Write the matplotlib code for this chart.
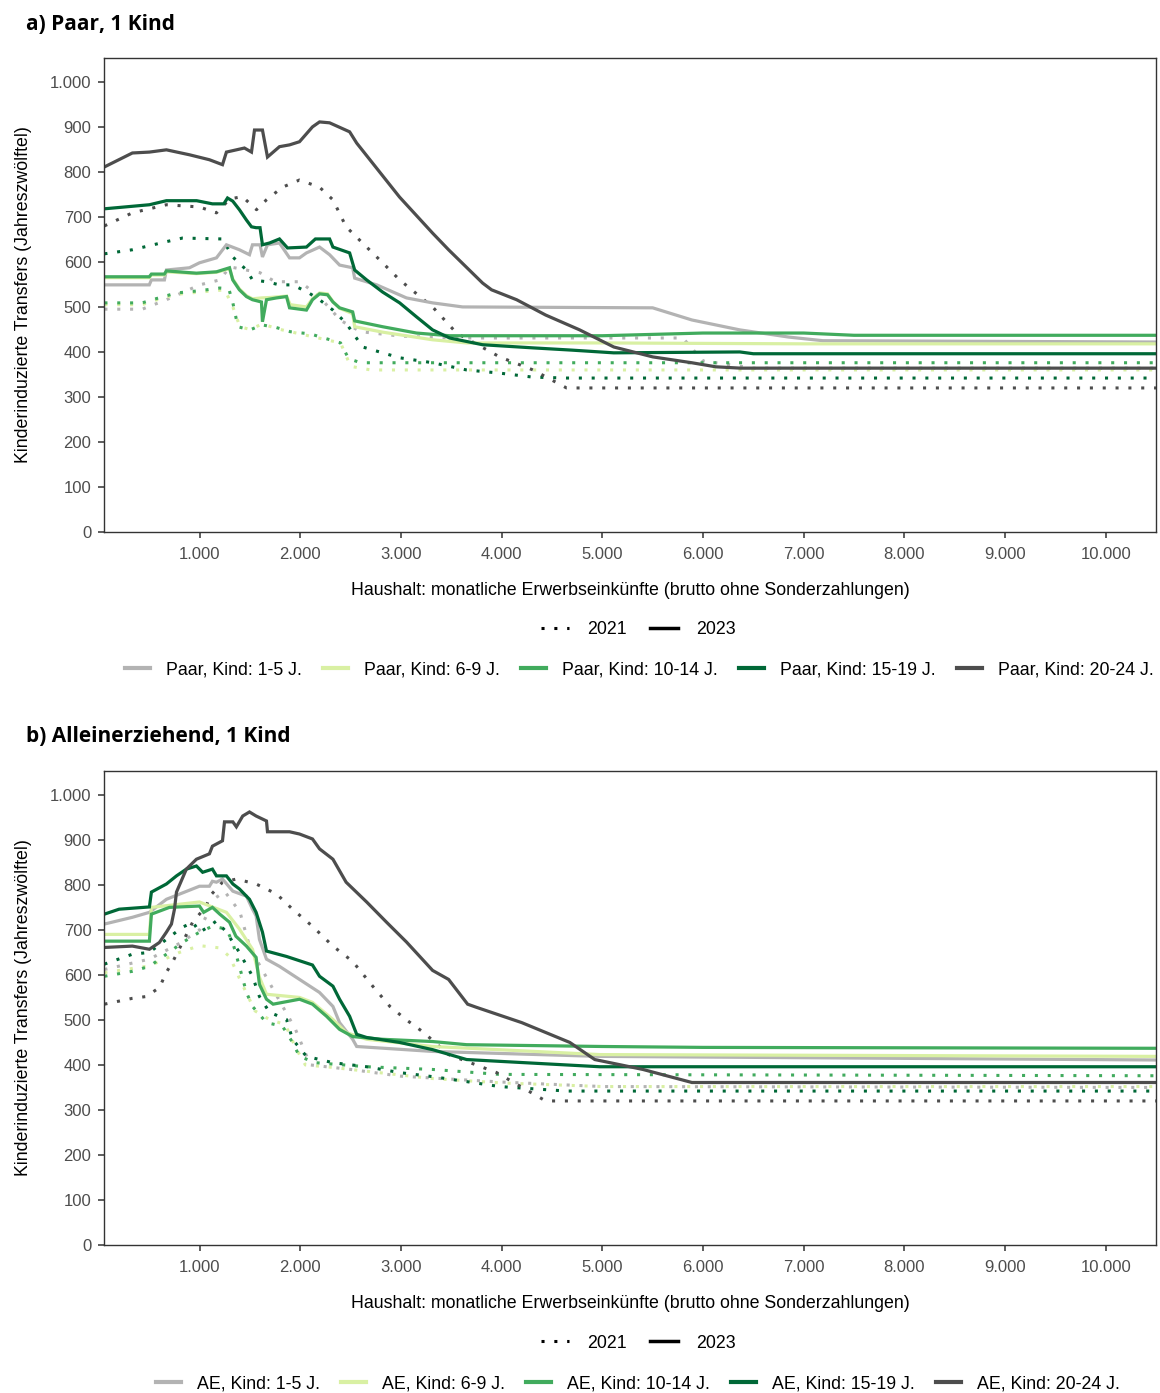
import matplotlib
matplotlib.use("Agg")
import matplotlib.pyplot as plt
from matplotlib.lines import Line2D
from matplotlib.ticker import FuncFormatter

plt.rcParams["font.family"] = ["Liberation Sans", "DejaVu Sans"]

# === Farben / Altersgruppen ===
alter = ["1-5 J.", "6-9 J.", "10-14 J.", "15-19 J.", "20-24 J."]
farben = ["#b3b3b3", "#d9f0a3", "#41ab5d", "#006837", "#4d4d4d"]

# === a) Paar, 1 Kind -- 2023 ===
a23_1_x = [54, 500, 521, 650, 670, 899, 998, 1167, 1266, 1395, 1495, 1525, 1600, 1624, 1674, 1793, 1893, 1992, 2061, 2191, 2291, 2390, 2520, 2540, 2759, 3055, 3314, 3612, 5500, 5890, 6366, 6853, 7190, 10500]
a23_1_y = [549, 549, 560, 560, 582, 587, 598, 609, 638, 627, 616, 638, 638, 611, 638, 642, 609, 609, 620, 633, 616, 593, 587, 564, 549, 520, 509, 500, 498, 471, 449, 433, 425, 422]
a23_6_x = [54, 500, 521, 650, 670, 968, 1167, 1297, 1329, 1395, 1465, 1525, 1614, 1700, 1863, 1900, 2061, 2121, 2191, 2270, 2324, 2390, 2520, 2540, 2818, 3314, 3652, 5000, 7000, 10500]
a23_6_y = [565, 565, 571, 571, 578, 574, 577, 585, 562, 540, 525, 518, 520, 521, 524, 505, 500, 518, 531, 529, 512, 497, 485, 456, 444, 427, 420, 420, 418, 418]
a23_10_x = [54, 500, 521, 650, 670, 968, 1167, 1297, 1329, 1395, 1465, 1525, 1614, 1624, 1664, 1763, 1863, 1893, 2061, 2121, 2191, 2270, 2324, 2390, 2520, 2540, 2818, 3154, 3483, 5000, 6000, 7000, 7500, 10500]
a23_10_y = [567, 567, 573, 573, 580, 575, 578, 587, 560, 538, 523, 516, 511, 467, 516, 520, 523, 498, 493, 516, 529, 527, 511, 498, 489, 469, 456, 442, 436, 436, 442, 442, 437, 437]
a23_15_x = [54, 501, 670, 970, 1127, 1240, 1277, 1329, 1395, 1465, 1515, 1561, 1600, 1624, 1694, 1793, 1873, 2061, 2150, 2191, 2291, 2324, 2490, 2540, 2659, 2818, 2987, 3154, 3314, 3483, 3811, 4314, 4700, 5114, 6366, 6500, 10500]
a23_15_y = [718, 727, 736, 736, 729, 729, 742, 735, 716, 693, 678, 676, 676, 638, 642, 651, 631, 633, 651, 651, 651, 633, 620, 582, 560, 533, 509, 478, 449, 431, 416, 409, 404, 398, 400, 396, 396]
a23_20_x = [54, 332, 501, 670, 899, 1097, 1227, 1266, 1445, 1515, 1545, 1624, 1674, 1793, 1893, 1992, 2121, 2191, 2291, 2490, 2560, 2986, 3314, 3473, 3811, 3900, 4149, 4437, 4775, 5114, 5501, 5889, 6127, 6373, 10500]
a23_20_y = [811, 842, 844, 849, 838, 827, 816, 844, 853, 844, 893, 893, 833, 856, 860, 867, 900, 911, 909, 889, 864, 744, 664, 627, 553, 538, 516, 482, 449, 411, 389, 376, 367, 364, 364]

# === a) Paar, 1 Kind -- 2021 ===
a21_1_x = [54, 430, 670, 1000, 1200, 1300, 1600, 1750, 2000, 2200, 2400, 2600, 3000, 3500, 5800, 6000, 6500, 10500]
a21_1_y = [495, 495, 516, 549, 560, 589, 576, 556, 556, 520, 470, 445, 435, 431, 431, 380, 364, 364]
a21_6_x = [54, 430, 530, 770, 1000, 1250, 1330, 1400, 1500, 1620, 1800, 2000, 2200, 2400, 2500, 2700, 10500]
a21_6_y = [505, 505, 513, 528, 533, 538, 500, 456, 450, 462, 450, 440, 430, 420, 368, 360, 360]
a21_10_x = [54, 430, 530, 770, 1000, 1200, 1290, 1330, 1380, 1500, 1620, 1750, 1900, 2100, 2250, 2400, 2480, 2600, 10500]
a21_10_y = [509, 509, 516, 531, 536, 542, 540, 509, 456, 449, 460, 455, 445, 440, 430, 420, 385, 376, 376]
a21_15_x = [54, 332, 670, 830, 1227, 1329, 1465, 1525, 1664, 1793, 1923, 2071, 2191, 2324, 2455, 2619, 2987, 3314, 3652, 3980, 4311, 4645, 10500]
a21_15_y = [618, 627, 645, 653, 651, 611, 582, 560, 556, 549, 549, 533, 516, 493, 464, 411, 387, 376, 360, 353, 344, 342, 342]
a21_20_x = [54, 332, 670, 998, 1167, 1300, 1425, 1565, 1664, 1823, 1992, 2191, 2324, 2455, 2659, 2818, 2987, 3314, 3552, 3980, 4311, 4645, 10500]
a21_20_y = [680, 709, 727, 722, 709, 740, 745, 716, 738, 766, 782, 766, 738, 678, 633, 598, 560, 500, 442, 389, 360, 320, 320]

# === b) Alleinerziehend, 1 Kind -- 2023 ===
b23_1_x = [54, 332, 501, 670, 998, 1097, 1127, 1167, 1227, 1330, 1465, 1525, 1561, 1594, 1664, 1793, 1992, 2191, 2324, 2390, 2520, 2560, 3314, 4975, 10500]
b23_1_y = [713, 728, 739, 768, 797, 797, 808, 806, 813, 786, 775, 746, 731, 679, 635, 619, 590, 561, 530, 494, 457, 441, 430, 419, 411]
b23_6_x = [54, 501, 521, 998, 1266, 1395, 1525, 1594, 1664, 1992, 2121, 2324, 2455, 2659, 3314, 4975, 10500]
b23_6_y = [690, 690, 750, 762, 739, 702, 657, 595, 557, 550, 539, 501, 472, 457, 441, 423, 419]
b23_10_x = [54, 501, 521, 700, 998, 1040, 1127, 1200, 1297, 1360, 1465, 1561, 1594, 1664, 1730, 1992, 2121, 2261, 2390, 2520, 2818, 3314, 3652, 5000, 6000, 10500]
b23_10_y = [675, 675, 735, 750, 753, 739, 750, 735, 717, 686, 664, 639, 579, 546, 535, 546, 535, 508, 479, 463, 457, 452, 445, 441, 439, 437]
b23_15_x = [54, 200, 501, 521, 670, 770, 868, 968, 1030, 1127, 1167, 1266, 1330, 1395, 1495, 1561, 1624, 1664, 1863, 2121, 2191, 2324, 2390, 2490, 2560, 2659, 2987, 3314, 3652, 3980, 4975, 10500]
b23_15_y = [735, 746, 751, 784, 802, 820, 835, 842, 828, 835, 820, 820, 802, 791, 768, 739, 695, 653, 641, 622, 597, 575, 546, 508, 468, 461, 450, 434, 412, 408, 396, 396]
b23_20_x = [54, 332, 501, 600, 670, 720, 750, 770, 868, 968, 1097, 1127, 1227, 1247, 1330, 1365, 1428, 1495, 1561, 1664, 1674, 1893, 1992, 2121, 2191, 2324, 2455, 2659, 2857, 3055, 3314, 3473, 3662, 3750, 4200, 4677, 4925, 5403, 5890, 10500]
b23_20_y = [661, 664, 657, 672, 695, 713, 746, 784, 835, 857, 869, 886, 898, 940, 940, 929, 953, 962, 953, 942, 918, 918, 913, 902, 880, 857, 806, 762, 717, 673, 610, 590, 535, 528, 494, 450, 412, 390, 361, 361]

# === b) Alleinerziehend, 1 Kind -- 2021 ===
b21_1_x = [54, 500, 800, 1000, 1150, 1250, 1400, 1500, 1650, 1800, 1950, 2100, 2500, 3000, 4000, 5000, 10500]
b21_1_y = [612, 635, 670, 700, 770, 785, 740, 660, 600, 540, 480, 400, 390, 375, 362, 352, 350]
b21_6_x = [54, 500, 800, 1000, 1200, 1300, 1400, 1550, 1700, 1850, 1950, 2050, 2300, 2700, 3300, 4000, 5000, 10500]
b21_6_y = [605, 620, 650, 665, 660, 640, 590, 520, 500, 490, 440, 400, 395, 385, 370, 360, 352, 352]
b21_10_x = [54, 332, 501, 670, 830, 998, 1127, 1266, 1329, 1395, 1465, 1525, 1664, 1823, 1923, 1992, 2150, 2659, 3314, 3980, 10500]
b21_10_y = [597, 608, 619, 646, 672, 695, 708, 702, 672, 619, 561, 530, 494, 486, 450, 419, 405, 396, 390, 379, 376]
b21_15_x = [54, 332, 501, 670, 830, 933, 1000, 1097, 1167, 1266, 1395, 1525, 1594, 1694, 1863, 1923, 2061, 2324, 2659, 2987, 3314, 3652, 3980, 4645, 10500]
b21_15_y = [624, 646, 650, 679, 706, 717, 695, 708, 720, 695, 650, 597, 552, 517, 501, 457, 419, 405, 396, 383, 374, 363, 352, 342, 342]
b21_20_x = [54, 332, 470, 601, 670, 730, 830, 930, 1067, 1100, 1167, 1227, 1365, 1561, 1763, 1923, 2121, 2324, 2520, 2719, 2890, 3055, 3226, 3473, 3950, 4437, 10500]
b21_20_y = [535, 548, 552, 572, 606, 628, 672, 717, 753, 775, 791, 806, 813, 802, 780, 746, 708, 664, 630, 575, 530, 500, 472, 423, 383, 320, 320]

panels = [
    {
        "titel": "a) Paar, 1 Kind",
        "prefix": "Paar",
        "d21": [(a21_1_x, a21_1_y), (a21_6_x, a21_6_y), (a21_10_x, a21_10_y), (a21_15_x, a21_15_y), (a21_20_x, a21_20_y)],
        "d23": [(a23_1_x, a23_1_y), (a23_6_x, a23_6_y), (a23_10_x, a23_10_y), (a23_15_x, a23_15_y), (a23_20_x, a23_20_y)],
        "rect": [104 / 1160, (1393 - 532) / 1393, 1052 / 1160, 474 / 1393],
        "titel_y": 24, "leg1_y": 630, "leg2_y": 670, "leg2_x": 639,
    },
    {
        "titel": "b) Alleinerziehend, 1 Kind",
        "prefix": "AE",
        "d21": [(b21_1_x, b21_1_y), (b21_6_x, b21_6_y), (b21_10_x, b21_10_y), (b21_15_x, b21_15_y), (b21_20_x, b21_20_y)],
        "d23": [(b23_1_x, b23_1_y), (b23_6_x, b23_6_y), (b23_10_x, b23_10_y), (b23_15_x, b23_15_y), (b23_20_x, b23_20_y)],
        "rect": [104 / 1160, (1393 - 1245) / 1393, 1052 / 1160, 474 / 1393],
        "titel_y": 737, "leg1_y": 1343, "leg2_y": 1384, "leg2_x": 638,
    },
]

H = 1393
fig = plt.figure(figsize=(11.6, 13.93), dpi=100)
punkt = FuncFormatter(lambda v, p: f"{int(v):,}".replace(",", "."))
dot = (0, (1, 3.2))

for p in panels:
    ax = fig.add_axes(p["rect"])
    for (x, y), c in zip(p["d21"], farben):
        ax.plot(x, y, color=c, lw=2.2, linestyle=dot)
    for (x, y), c in zip(p["d23"], farben):
        ax.plot(x, y, color=c, lw=2.3, solid_joinstyle="miter")

    ax.set_xlim(50, 10500)
    ax.set_ylim(0, 1053)
    ax.set_xticks(range(1000, 10001, 1000))
    ax.set_yticks(range(0, 1001, 100))
    ax.xaxis.set_major_formatter(punkt)
    ax.yaxis.set_major_formatter(punkt)
    ax.tick_params(length=4, width=1.1, color="#333333", labelcolor="#4d4d4d", labelsize=12, pad=5)
    ax.tick_params(axis="x", pad=7)
    for s in ax.spines.values():
        s.set_color("#333333")
        s.set_linewidth(1.0)
    ax.set_xlabel("Haushalt: monatliche Erwerbseinkünfte (brutto ohne Sonderzahlungen)", fontsize=12.8, labelpad=14)
    ax.set_ylabel("Kinderinduzierte Transfers (Jahreszwölftel)", fontsize=12.8, labelpad=13)

    fig.text(26 / 1160, 1 - p["titel_y"] / H, p["titel"], fontsize=15, fontweight="bold",
             family=["Open Sans", "DejaVu Sans"], va="center", ha="left")

    h1 = [Line2D([], [], color="black", lw=2.2, linestyle=dot),
          Line2D([], [], color="black", lw=2.5)]
    fig.legend(h1, ["2021", "2023"], loc="center", bbox_to_anchor=(638 / 1160, 1 - p["leg1_y"] / H),
               ncol=2, frameon=False, fontsize=12.8, handlelength=1.6, handletextpad=1.0, columnspacing=1.3)

    h2 = [Line2D([], [], color=c, lw=3) for c in farben]
    l2 = [f"{p['prefix']}, Kind: {a}" for a in alter]
    fig.legend(h2, l2, loc="center", bbox_to_anchor=(p["leg2_x"] / 1160, 1 - p["leg2_y"] / H),
               ncol=5, frameon=False, fontsize=12.8, handlelength=1.4, handletextpad=0.9, columnspacing=1.2)

fig.savefig("out.png", dpi=100)
